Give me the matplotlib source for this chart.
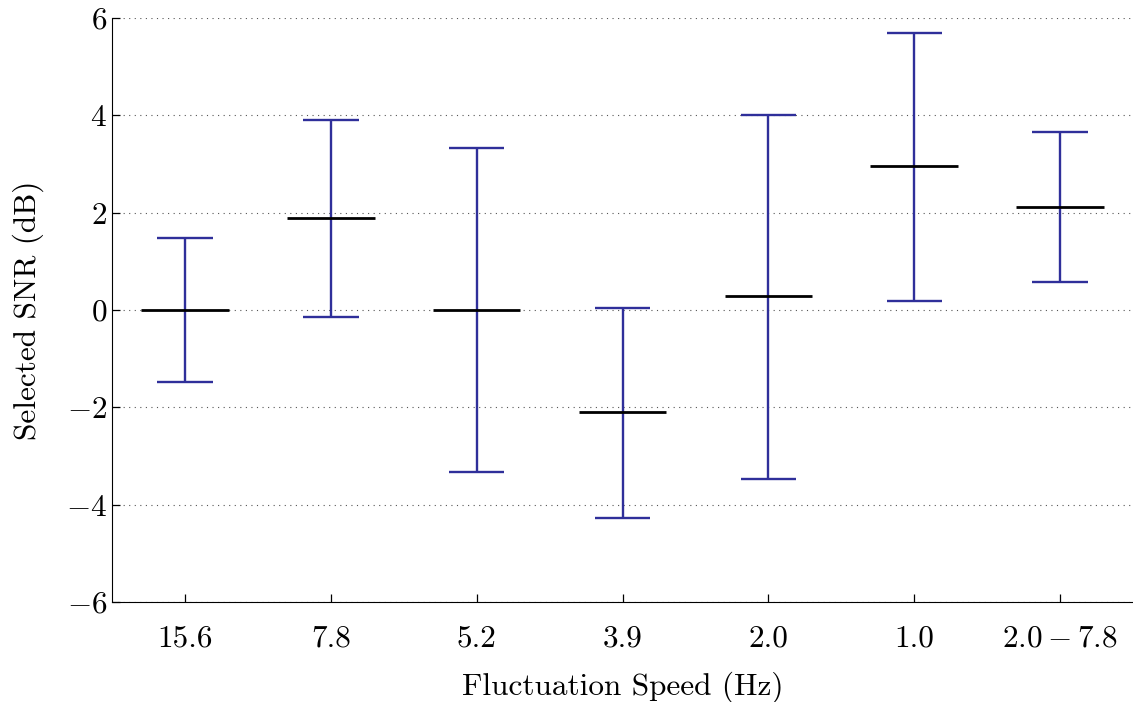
import matplotlib
matplotlib.use("Agg")
import matplotlib.pyplot as plt
import numpy as np

plt.rcParams['font.family'] = 'cmr10'
plt.rcParams['mathtext.fontset'] = 'cm'
plt.rcParams['axes.formatter.use_mathtext'] = True

speeds = ['15.6', '7.8', '5.2', '3.9', '2.0', '1.0', r'$2.0-7.8$']
medians = [0.0, 1.89, 0.0, -2.10, 0.29, 2.96, 2.12]
upper = [1.48, 3.90, 3.33, 0.04, 4.01, 5.69, 3.66]
lower = [-1.48, -0.14, -3.33, -4.27, -3.47, 0.18, 0.58]

blue = '#2f2f9a'
x = np.arange(1, len(speeds) + 1)

fig = plt.figure(figsize=(11.33, 7.02), dpi=100)
ax = fig.add_axes([0.0989, 0.1425, 0.9011, 0.832])

ax.vlines(x, lower, upper, color=blue, linewidth=1.7, zorder=3)
ax.hlines(upper, x - 0.19, x + 0.19, color=blue, linewidth=1.7, zorder=3)
ax.hlines(lower, x - 0.19, x + 0.19, color=blue, linewidth=1.7, zorder=3)
ax.hlines(medians, x - 0.30, x + 0.30, color='black', linewidth=2.0, zorder=4)

ax.set_xlim(0.5, 7.5)
ax.set_ylim(-6, 6)
ax.set_yticks(np.arange(-6, 7, 2))
ax.set_xticks(x)
ax.set_xticklabels(speeds)
ax.grid(axis='y', linestyle=(0, (1, 4)), color='#555555', linewidth=0.8)
ax.spines['top'].set_visible(False)
ax.spines['right'].set_visible(False)
ax.tick_params(direction='in', length=6, labelsize=22.5, width=0.9)
ax.tick_params(axis='x', pad=16)

ax.set_xlabel('Fluctuation Speed (Hz)', fontsize=22.5, labelpad=14)
ax.set_ylabel('Selected SNR (dB)', fontsize=22.5, labelpad=16)

fig.savefig('out.png', dpi=100)
